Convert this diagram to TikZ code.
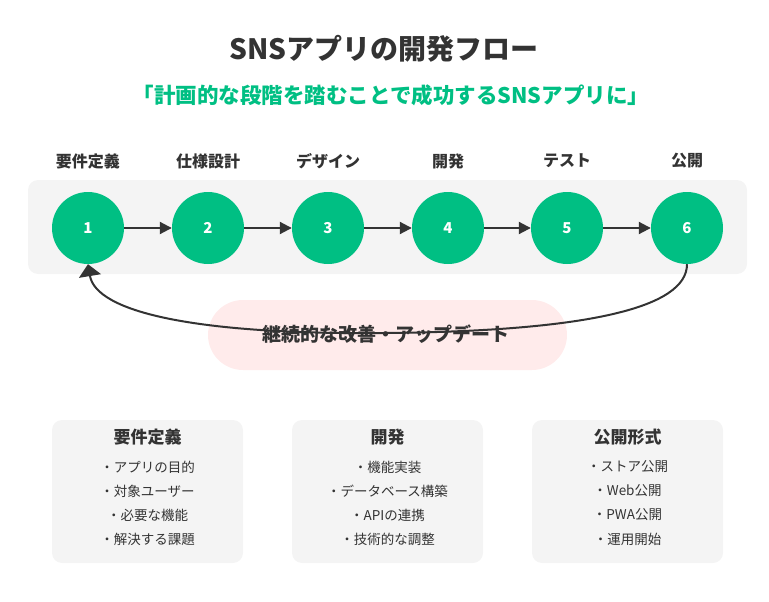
\documentclass[tikz,border=0pt]{standalone}
\usepackage{fontspec}
\setmainfont{Noto Sans CJK JP}
\usetikzlibrary{arrows.meta}
\definecolor{snsgreen}{HTML}{00BF83}
\definecolor{ink}{HTML}{333333}
\definecolor{bandgray}{HTML}{F4F4F4}
\definecolor{softpink}{HTML}{FFEBEB}

\begin{document}
\begin{tikzpicture}[x=1pt,y=-1pt,
    step circle/.style={circle,fill=snsgreen,minimum size=72pt,inner sep=0pt,
      text=white,font=\fontsize{15}{15}\selectfont\bfseries},
    step label/.style={text=ink,font=\fontsize{16}{16}\selectfont\bfseries},
    flow/.style={ink,line width=2pt,-{Triangle[length=12pt,width=12pt]}},
    loop flow/.style={ink,line width=2pt,-{Triangle[length=12pt,width=22pt]}},
    info box/.style={fill=bandgray,rounded corners=10pt,minimum width=191pt,
      minimum height=143pt,inner sep=0pt},
    info title/.style={text=ink,font=\fontsize{17}{17}\selectfont\bfseries},
    info item/.style={text=ink,font=\fontsize{13.5}{13.5}\selectfont}]
          \useasboundingbox (0,0) rectangle (769,602);
          % titles
          \node[text=ink,font=\fontsize{28}{28}\selectfont\bfseries] (title) at (384,49) {SNSアプリの開発フロー};
          \node[text=snsgreen,font=\fontsize{21.5}{21.5}\selectfont\bfseries] (subtitle) at (391,95) {「計画的な段階を踏むことで成功するSNSアプリに」};
          % band behind the steps
          \fill[bandgray,rounded corners=10pt] (28,180) rectangle (747,274);
          \node[step circle] (s1) at (88,228) {1};
          \node[step circle] (s2) at (208,228) {2};
          \node[step circle] (s3) at (328,228) {3};
          \node[step circle] (s4) at (448,228) {4};
          \node[step circle] (s5) at (567,228) {5};
          \node[step circle] (s6) at (687,228) {6};
          \node[step label] (l1) at (88,161) {要件定義};
          \node[step label] (l2) at (208,161) {仕様設計};
          \node[step label] (l3) at (328,161) {デザイン};
          \node[step label] (l4) at (448,161) {開発};
          \node[step label] (l5) at (567,161) {テスト};
          \node[step label] (l6) at (687,161) {公開};
          \draw[flow] (s1) -- (s2);
          \draw[flow] (s2) -- (s3);
          \draw[flow] (s3) -- (s4);
          \draw[flow] (s4) -- (s5);
          \draw[flow] (s5) -- (s6);
          % improvement loop
          \node[fill=softpink,rounded corners=35pt,minimum width=359pt,minimum height=70pt,inner sep=0pt] (loopbox) at (387.5,335) {};
          \node[text=ink,font=\fontsize{19}{19}\selectfont\bfseries] (looptext) at (386,334) {継続的な改善・アップデート};
          \coordinate (loopmid) at (387,333);
          \draw[loop flow] (s6.south) .. controls (687,308) and (587,331) .. (loopmid)
            .. controls (195,335) and (96,312) .. (s1.south);
          % detail boxes
          \node[info box] (b1) at (147.5,491.5) {};
          \node[info box] (b2) at (387.5,491.5) {};
          \node[info box] (b3) at (627.5,491.5) {};
          \node[info title] (t1) at (147.5,437) {要件定義};
          \node[info title] (t2) at (387.5,437) {開発};
          \node[info title] (t3) at (627.5,437) {公開形式};
          \node[info item] (i11) at (147.5,467) {・アプリの目的};
          \node[info item] (i12) at (147.5,491) {・対象ユーザー};
          \node[info item] (i13) at (147.5,515) {・必要な機能};
          \node[info item] (i14) at (147.5,539) {・解決する課題};
          \node[info item] (i21) at (387.5,467) {・機能実装};
          \node[info item] (i22) at (387.5,491) {・データベース構築};
          \node[info item] (i23) at (387.5,515) {・APIの連携};
          \node[info item] (i24) at (387.5,539) {・技術的な調整};
          \node[info item] (i31) at (627.5,467) {・ストア公開};
          \node[info item] (i32) at (627.5,491) {・Web公開};
          \node[info item] (i33) at (627.5,515) {・PWA公開};
          \node[info item] (i34) at (627.5,539) {・運用開始};
        \end{tikzpicture}
\end{document}
